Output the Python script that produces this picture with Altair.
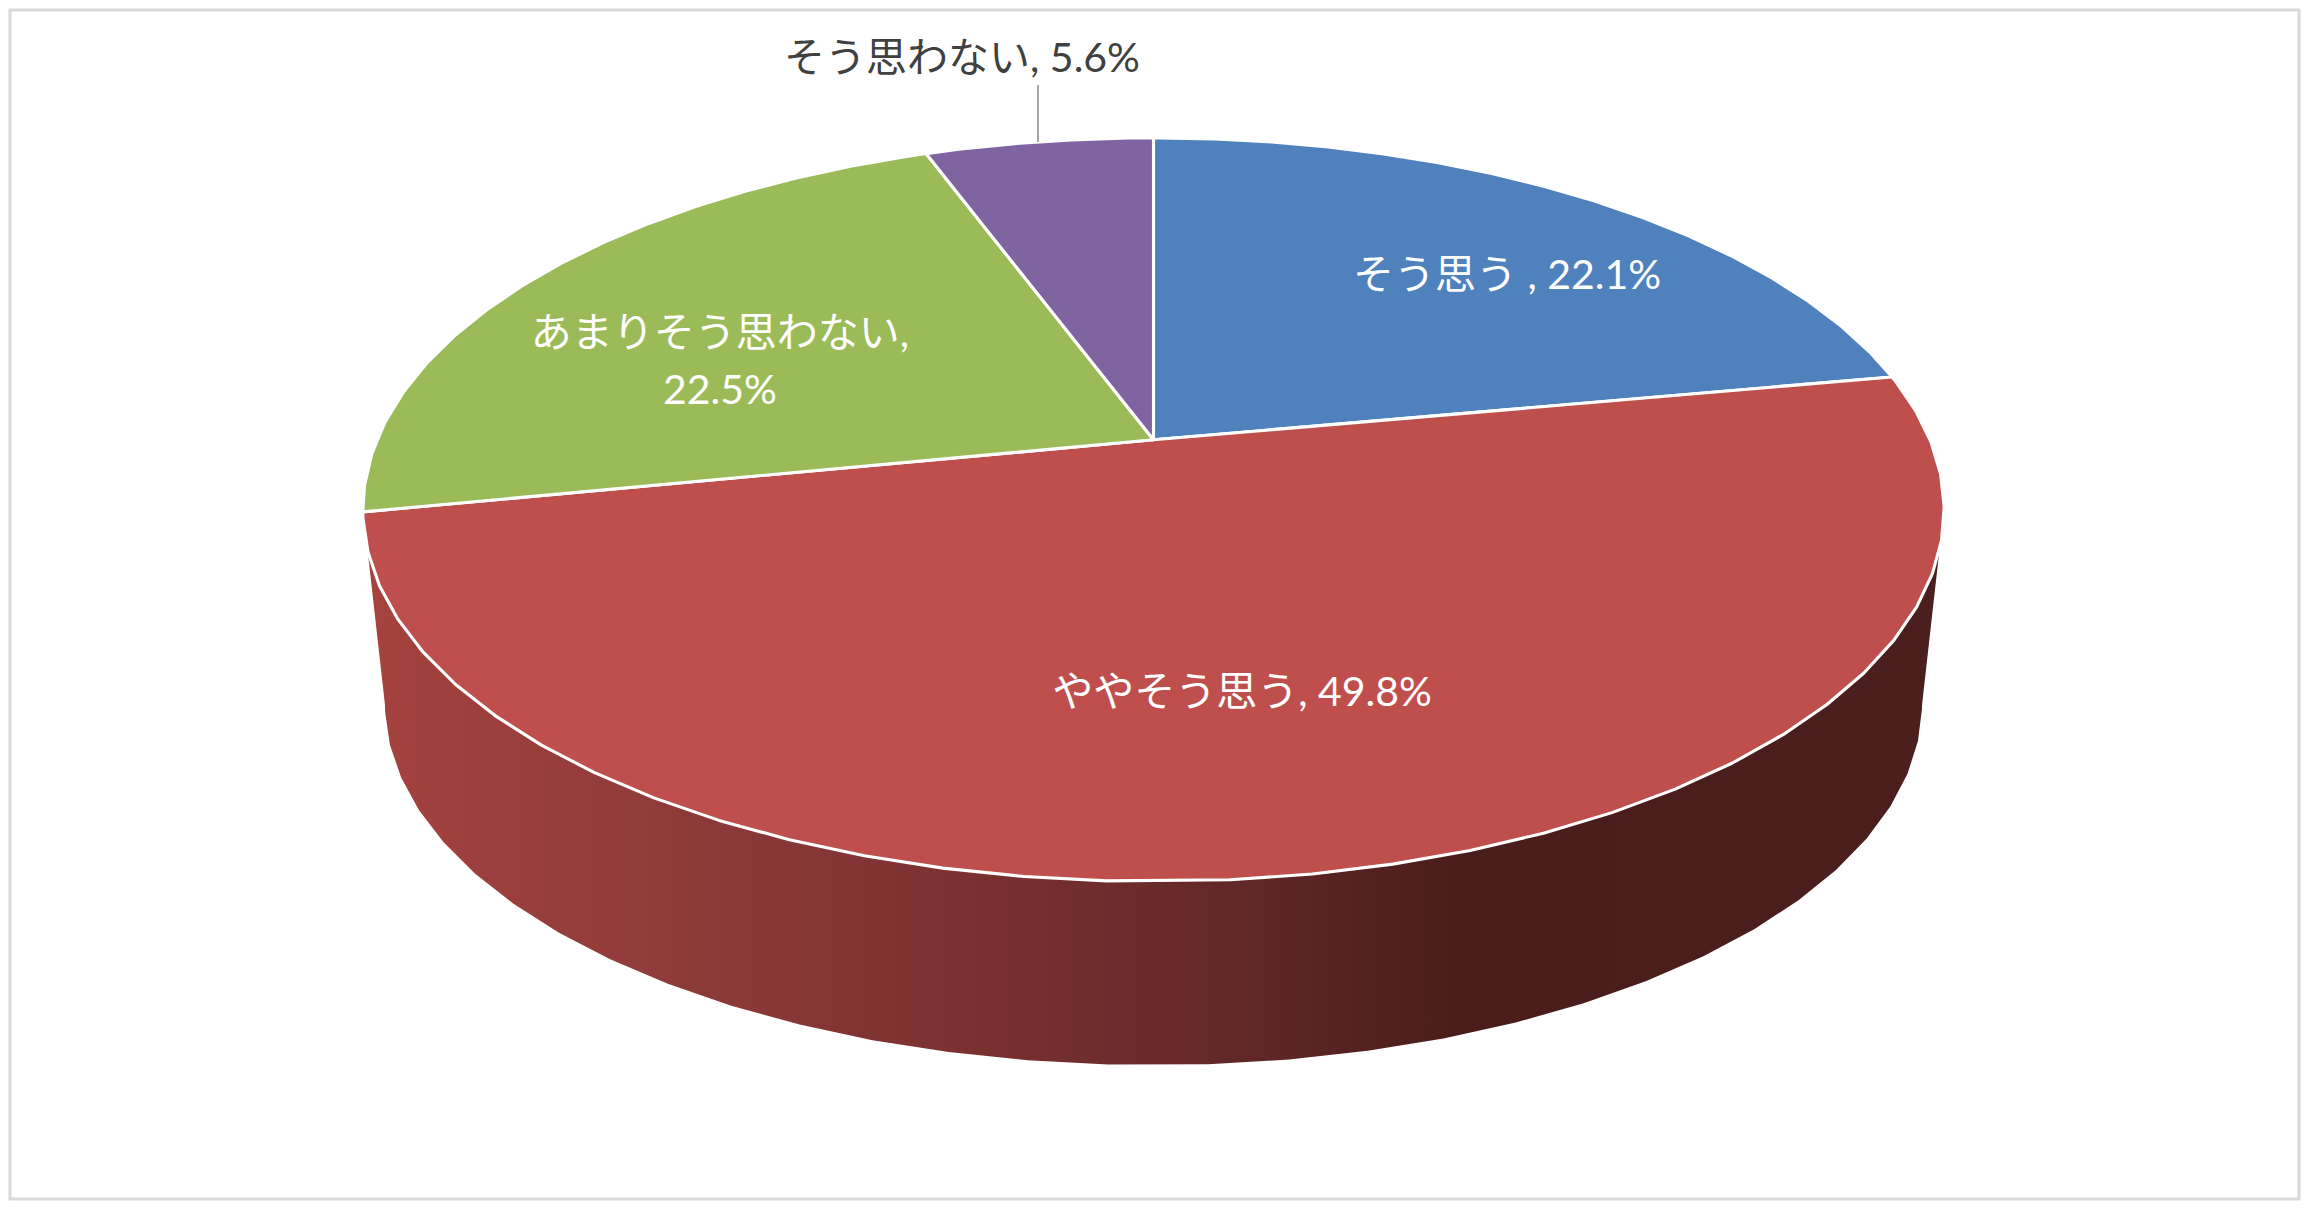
import math
import altair as alt
import pandas as pd

# ---- chart values
categories = ["そう思う", "ややそう思う", "あまりそう思わない", "そう思わない"]
values = [22.1, 49.8, 22.5, 5.6]
colors = ["#4F81BD", "#BE4F4D", "#9BBB59", "#8064A2"]

label_lines = ["そう思う , 22.1%", "ややそう思う, 49.8%", "あまりそう思わない,", "22.5%", "そう思わない, 5.6%"]
label_colors = ["#FFFFFF", "#FFFFFF", "#FFFFFF", "#FFFFFF", "#404040"]
label_x = [1507, 1242, 720, 720, 962]
label_y = [277, 694, 335, 392, 60]

leader_x = [1038]
leader_y = [85]
leader_y2 = [142]

# ---- page frame
PAD = 2
OX = 8 + PAD
W = 2289
H = 1189
sx = alt.Scale(domain=[OX, OX + W], nice=False, zero=False)
sy = alt.Scale(domain=[OX + H, OX], nice=False, zero=False)
X = alt.X("x:Q", scale=sx, axis=None)
Y = alt.Y("y:Q", scale=sy, axis=None)

# ---- perspective of the disc
CX, CY = 1153.5, 439.8
A, B, K = 776.6, 358.7, 0.188
S, CY2 = 0.972, 635.8
STEP = 5.0


def top(t):
    r = math.radians(t)
    d = 1 + K * math.cos(r)
    return CX + A * math.sin(r) / d, CY - B * math.cos(r) / d


def bottom(t):
    r = math.radians(t)
    d = 1 + K * math.cos(r)
    return CX + S * A * math.sin(r) / d, CY2 - S * B * math.cos(r) / d


def arc(t0, t1, right_phase=0.4, left_phase=2.8):
    ts = [t0]
    for n in range(0, 73):
        t = n * STEP + (right_phase if n * STEP < 180 else left_phase)
        if t0 < t < t1:
            ts.append(t)
    ts.append(t1)
    return ts


def frame(points):
    return pd.DataFrame([{"x": p[0], "y": p[1], "i": i} for i, p in enumerate(points)])


faces = []
start = 0.0
for cat, v, col in zip(categories, values, colors):
    end = start + v * 3.6
    pts = [(CX, CY)] + [top(t) for t in arc(start, end)] + [(CX, CY)]
    faces.append(
        alt.Chart(frame(pts))
        .mark_line(fill=col, stroke="#FFFFFF", strokeWidth=3.1, strokeJoin="round", clip=False)
        .encode(x=X, y=Y, order="i:Q")
    )
    start = end

side_pts = [top(t) for t in arc(107.0, 253.0)] + [bottom(t) for t in reversed(arc(101.0, 259.0, right_phase=1.6))]
side_pts.append(side_pts[0])
side_fill = alt.Gradient(
    gradient="linear",
    x1=0, x2=1, y1=0, y2=0,
    stops=[
        alt.GradientStop(offset=0.0, color="#A5423E"),
        alt.GradientStop(offset=0.18, color="#8F3C3A"),
        alt.GradientStop(offset=0.40, color="#78302F"),
        alt.GradientStop(offset=0.57, color="#5F2726"),
        alt.GradientStop(offset=0.69, color="#4A1D1B"),
        alt.GradientStop(offset=1.0, color="#4B1F1E"),
    ],
)
side = (
    alt.Chart(frame(side_pts))
    .mark_line(fill=side_fill, stroke="#FFFFFF", strokeWidth=0, clip=False)
    .encode(x=X, y=Y, order="i:Q")
)

leader = (
    alt.Chart(pd.DataFrame({"x": leader_x, "y": leader_y, "y2": leader_y2}))
    .mark_rule(color="#A6A6A6", strokeWidth=2)
    .encode(x=X, y=Y, y2="y2:Q")
)

labels = (
    alt.Chart(pd.DataFrame({"x": label_x, "y": label_y, "t": label_lines, "c": label_colors}))
    .mark_text(font="Lato, 'Noto Sans CJK JP'", fontSize=41, align="center", baseline="middle")
    .encode(x=X, y=Y, text="t:N", color=alt.Color("c:N", scale=None))
)

chart = (
    alt.layer(side, *faces, leader, labels)
    .properties(width=W, height=H, padding=PAD, background="#FFFFFF")
    .configure_view(stroke="#D9D9D9", strokeWidth=3)
)
chart.save("out.html", embed_options={"renderer": "svg", "actions": False})
